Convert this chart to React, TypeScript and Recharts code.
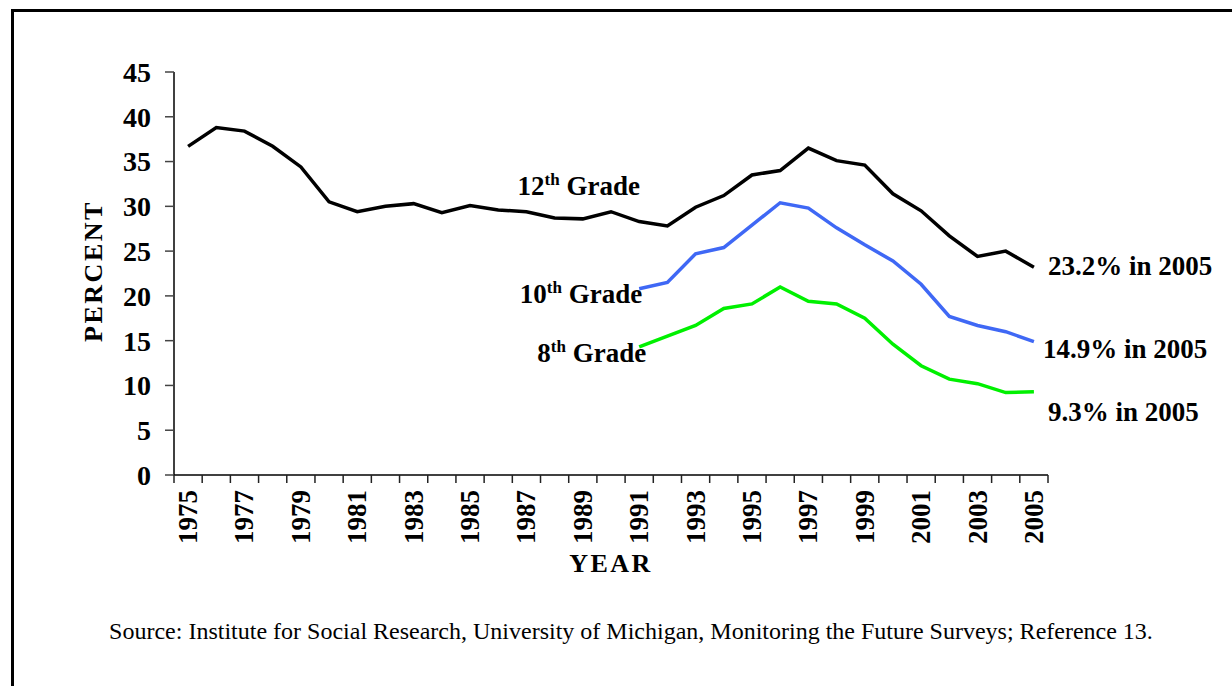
import React from "react";
import { LineChart, Line, XAxis, YAxis, LabelList } from "recharts";

const years = [1975, 1976, 1977, 1978, 1979, 1980, 1981, 1982, 1983, 1984, 1985, 1986, 1987, 1988, 1989, 1990, 1991, 1992, 1993, 1994, 1995, 1996, 1997, 1998, 1999, 2000, 2001, 2002, 2003, 2004, 2005];
const grade12 = [36.7, 38.8, 38.4, 36.7, 34.4, 30.5, 29.4, 30.0, 30.3, 29.3, 30.1, 29.6, 29.4, 28.7, 28.6, 29.4, 28.3, 27.8, 29.9, 31.2, 33.5, 34.0, 36.5, 35.1, 34.6, 31.4, 29.5, 26.7, 24.4, 25.0, 23.2];
const lowerGradesStart = 1991;
const grade10 = [20.8, 21.5, 24.7, 25.4, 27.9, 30.4, 29.8, 27.6, 25.7, 23.9, 21.3, 17.7, 16.7, 16.0, 14.9];
const grade8 = [14.3, 15.5, 16.7, 18.6, 19.1, 21.0, 19.4, 19.1, 17.5, 14.6, 12.2, 10.7, 10.2, 9.2, 9.3];
const yTicks = [0, 5, 10, 15, 20, 25, 30, 35, 40, 45];

const offset = years.indexOf(lowerGradesStart);
const data = years.map((year, i) => ({
  year,
  g12: grade12[i],
  g10: i >= offset ? grade10[i - offset] : null,
  g8: i >= offset ? grade8[i - offset] : null,
}));

const FONT = "'Liberation Serif', 'Times New Roman', serif";
const W = 1232;
const H = 686;
const MARGIN = { top: 72, right: 184, bottom: 151, left: 114 };
const Y_AXIS_W = 60;
const X_AXIS_H = 60;
const PLOT_W = W - MARGIN.left - MARGIN.right - Y_AXIS_W;
const STEP = PLOT_W / years.length;
const LAST = years.length - 1;
const LABEL_IDX_12 = years.indexOf(1989);

const XTick = (props: any) => {
  const { x, y, payload, index } = props;
  const axisY = y - 15;
  const showLabel = (payload.value - years[0]) % 2 === 0;
  return (
    <g>
      <line x1={x - STEP / 2} x2={x - STEP / 2} y1={axisY} y2={axisY + 8} stroke="#222" strokeWidth={1.5} />
      {index === LAST || payload.value === years[LAST] ? (
        <line x1={x + STEP / 2} x2={x + STEP / 2} y1={axisY} y2={axisY + 8} stroke="#222" strokeWidth={1.5} />
      ) : null}
      {showLabel ? (
        <text
          x={x + 9}
          y={y}
          transform={`rotate(-90, ${x + 9}, ${y})`}
          textAnchor="end"
          fontFamily={FONT}
          fontWeight="bold"
          fontSize={27}
          fill="#000"
        >
          {payload.value}
        </text>
      ) : null}
    </g>
  );
};

const gradeText = (num: string, x: number, y: number, anchor: string) => (
  <text x={x} y={y} textAnchor={anchor} fontFamily={FONT} fontWeight="bold" fontSize={27} fill="#000">
    {num}
    <tspan fontSize={17} dy={-10}>th</tspan>
    <tspan dy={10}> Grade</tspan>
  </text>
);

const endText = (value: number, x: number, y: number) => (
  <text x={x} y={y} fontFamily={FONT} fontWeight="bold" fontSize={27} fill="#000">
    {`${value.toFixed(1)}% in ${years[LAST]}`}
  </text>
);

const label12 = (p: any) => {
  if (p.index === LABEL_IDX_12) return gradeText("12", p.x - 4, p.y - 24, "middle");
  if (p.index === LAST) return endText(p.value, p.x + 14, p.y + 8);
  return null;
};
const label10 = (p: any) => {
  if (p.index === offset) return gradeText("10", p.x + 3, p.y + 14, "end");
  if (p.index === LAST) return endText(p.value, p.x + 9, p.y + 16);
  return null;
};
const label8 = (p: any) => {
  if (p.index === offset) return gradeText("8", p.x + 7, p.y + 15, "end");
  if (p.index === LAST) return endText(p.value, p.x + 14, p.y + 29);
  return null;
};

export default function App() {
  return (
    <div style={{ position: "absolute", left: 0, top: 0, width: W, height: H, overflow: "hidden", background: "#fff" }}>
      <div
        style={{
          position: "absolute",
          left: 11,
          top: 9,
          width: 1400,
          height: 900,
          border: "3px solid #000",
          boxSizing: "border-box",
        }}
      />
      <div style={{ position: "absolute", left: 0, top: 0 }}>
        <LineChart width={W} height={H} data={data} margin={MARGIN}>
          <XAxis
            dataKey="year"
            type="number"
            domain={[years[0] - 0.5, years[LAST] + 0.5]}
            ticks={years}
            interval={0}
            height={X_AXIS_H}
            tickSize={8}
            tickMargin={7}
            tickLine={false}
            axisLine={{ stroke: "#000", strokeWidth: 1.5 }}
            tick={<XTick />}
          />
          <YAxis
            type="number"
            domain={[0, 45]}
            ticks={yTicks}
            interval={0}
            width={Y_AXIS_W}
            tickSize={9}
            tickMargin={14}
            axisLine={{ stroke: "#000", strokeWidth: 1.5 }}
            tickLine={{ stroke: "#444", strokeWidth: 1.5 }}
            tick={{ fontFamily: FONT, fontWeight: "bold", fontSize: 28, fill: "#000" }}
          />
          <Line dataKey="g12" stroke="#000" strokeWidth={3.5} dot={false} isAnimationActive={false}>
            <LabelList dataKey="g12" content={label12} />
          </Line>
          <Line dataKey="g10" stroke="#3F68F5" strokeWidth={3.5} dot={false} isAnimationActive={false}>
            <LabelList dataKey="g10" content={label10} />
          </Line>
          <Line dataKey="g8" stroke="#00F000" strokeWidth={3.5} dot={false} isAnimationActive={false}>
            <LabelList dataKey="g8" content={label8} />
          </Line>
        </LineChart>
      </div>
      <div
        style={{
          position: "absolute",
          left: 94,
          top: 271,
          transform: "translate(-50%, -50%) rotate(-90deg)",
          fontFamily: FONT,
          fontWeight: "bold",
          fontSize: 26,
          letterSpacing: 2.5,
          whiteSpace: "nowrap",
          lineHeight: 1,
        }}
      >
        PERCENT
      </div>
      <div
        style={{
          position: "absolute",
          left: 611,
          top: 564,
          transform: "translate(-50%, -50%)",
          fontFamily: FONT,
          fontWeight: "bold",
          fontSize: 26,
          letterSpacing: 2.5,
          whiteSpace: "nowrap",
          lineHeight: 1,
        }}
      >
        YEAR
      </div>
      <div
        style={{
          position: "absolute",
          left: 631,
          top: 631,
          transform: "translate(-50%, -50%)",
          fontFamily: FONT,
          fontSize: 24,
          whiteSpace: "nowrap",
          lineHeight: 1,
        }}
      >
        Source: Institute for Social Research, University of Michigan, Monitoring the Future Surveys; Reference 13.
      </div>
    </div>
  );
}
